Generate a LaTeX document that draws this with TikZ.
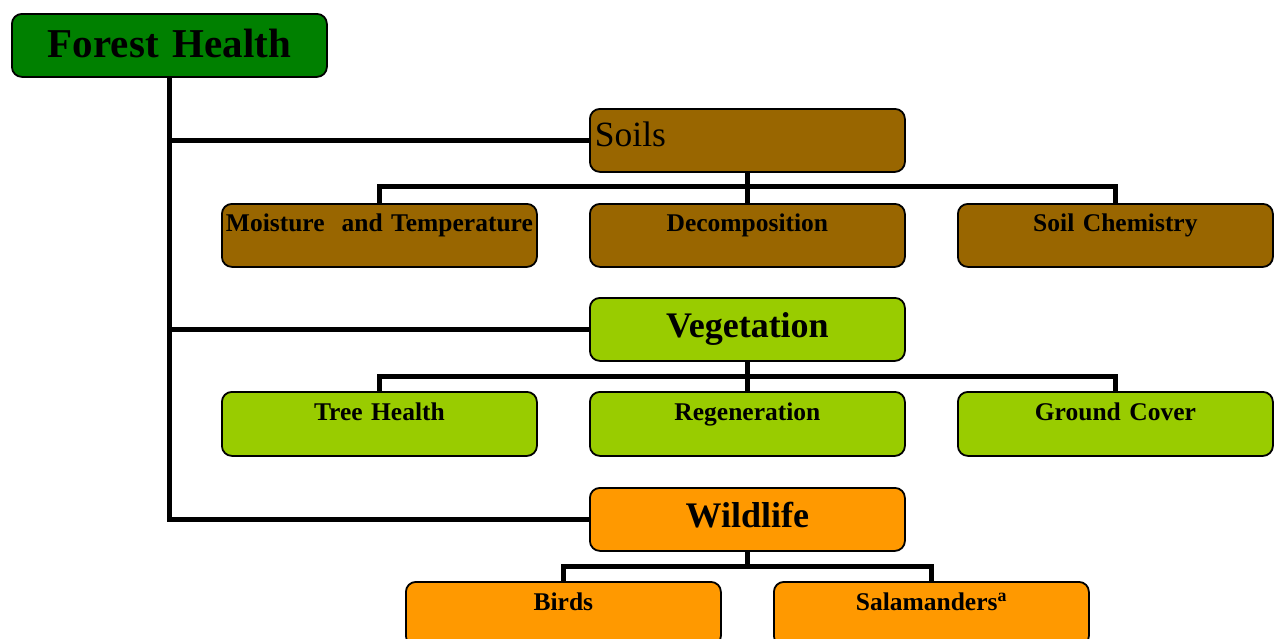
\documentclass[tikz,border=0pt]{standalone}
\usepackage{fontspec}
\setmainfont{Liberation Serif}
\definecolor{fhgreen}{HTML}{008000}
\definecolor{soilbrown}{HTML}{996600}
\definecolor{veglime}{HTML}{99CC00}
\definecolor{wildorange}{HTML}{FF9900}
\tikzset{
  box/.style={draw=black, line width=1.8pt, rounded corners=10pt, inner sep=0pt,
    anchor=north west, text width=315pt, align=center},
  big/.style={font=\fontsize{36}{40}\selectfont\bfseries, text height=40pt, text depth=23pt},
  small/.style={font=\fontsize{25.5}{30}\selectfont\bfseries, text height=28pt, text depth=35pt},
  conn/.style={draw=black, line width=5pt}
}
\begin{document}
\begin{tikzpicture}[x=1pt, y=-1pt]
\clip (0,0) rectangle (1277,638);
\useasboundingbox (0,0) rectangle (1277,638);
% top
\node[box, fill=fhgreen, font=\fontsize{41}{46}\selectfont\bfseries, text height=44pt, text depth=19pt] (fh) at (11,13) {Forest Health};
% soils
\node[box, fill=soilbrown, font=\fontsize{35.5}{40}\selectfont, align=left, text height=38pt, text depth=25pt] (soils) at (589,108) {\hspace*{5pt}Soils};
\node[box, fill=soilbrown, small] (moist) at (221,203) {Moisture\ \ and Temperature};
\node[box, fill=soilbrown, small] (decomp) at (589,203) {Decomposition};
\node[box, fill=soilbrown, small] (chem) at (957,203) {Soil Chemistry};
% vegetation
\node[box, fill=veglime, big] (veg) at (589,297) {Vegetation};
\node[box, fill=veglime, small, text height=29pt] (tree) at (221,391) {Tree Health};
\node[box, fill=veglime, small, text height=29pt] (regen) at (589,391) {Regeneration};
\node[box, fill=veglime, small, text height=29pt] (ground) at (957,391) {Ground Cover};
% wildlife
\node[box, fill=wildorange, big, text height=40pt] (wild) at (589,487) {Wildlife};
\node[box, fill=wildorange, small, text height=29pt] (birds) at (405,581) {Birds};
\node[box, fill=wildorange, small, text height=29pt] (sala) at (773,581) {Salamanders\textsuperscript{a}};
% connectors
\draw[conn] (fh.south) |- (wild.west);
\draw[conn] (fh.south |- soils.west) -- (soils.west);
\draw[conn] (fh.south |- veg.west) -- (veg.west);
\draw[conn] (soils.south) -- (decomp.north);
\draw[conn] (moist.north) -- ++(0,-17) -| (chem.north);
\draw[conn] (veg.south) -- (regen.north);
\draw[conn] (tree.north) -- ++(0,-15) -| (ground.north);
\draw[conn] (wild.south) -- ++(0,16);
\draw[conn] (birds.north) -- ++(0,-15) -| (sala.north);
\end{tikzpicture}
\end{document}
